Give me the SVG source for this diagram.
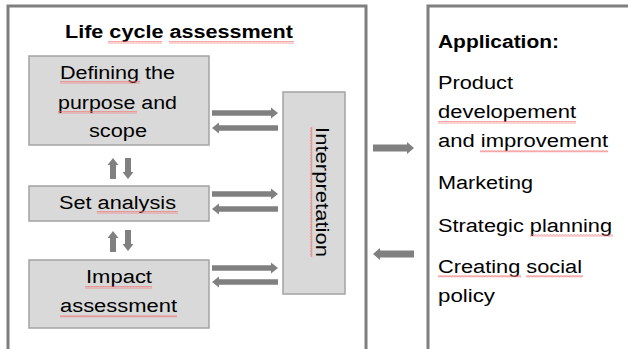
<svg xmlns="http://www.w3.org/2000/svg" width="628" height="349" viewBox="0 0 628 349">
<defs>
<style>
.frame{fill:none;stroke:#7f7f7f;stroke-width:3}
.box{fill:#d9d9d9;stroke:#a3a3a3;stroke-width:1.5}
.t{font-family:"Liberation Sans",Arial,sans-serif;font-size:18px;fill:#000}
.b{font-weight:bold}
.arr{fill:#808080}
.sq{fill:url(#squig)}
</style>
<pattern id="squig" patternUnits="userSpaceOnUse" width="3" height="2.5">
<path d="M0,2 L0.75,0.5 L1.5,2 L2.25,0.5 L3,2" fill="none" stroke="#f07070" stroke-width="0.7"/>
</pattern>
<path id="ah" d="M0,-2.7 H59 V-5.5 L66,0 L59,5.5 V2.7 H0 Z"/>
<path id="av" d="M-3,0 V-14 H-5.5 L0,-21 L5.5,-14 H3 V0 Z"/>
<path id="abig" d="M0,-3.5 H34 V-6 L41,0 L34,6 V3.5 H0 Z"/>
</defs>

<g id="lca-frame">
<rect class="frame" x="8" y="6" width="358" height="360"/>
<text class="t b" x="65" y="38" textLength="228" lengthAdjust="spacingAndGlyphs">Life cycle assessment</text>
<rect class="sq" x="108" y="41" width="54" height="2.5"/>
<rect class="sq" x="169" y="41" width="125" height="2.5"/>
</g>

<g id="node-purpose">
<rect class="box" x="29" y="56" width="180" height="89"/>
<text class="t" x="60" y="79" textLength="115" lengthAdjust="spacingAndGlyphs">Defining the</text>
<text class="t" x="58" y="109" textLength="119" lengthAdjust="spacingAndGlyphs">purpose and</text>
<text class="t" x="89" y="137" textLength="58" lengthAdjust="spacingAndGlyphs">scope</text>
<rect class="sq" x="60" y="81" width="80" height="2.5"/>
<rect class="sq" x="58" y="111" width="79" height="2.5"/>
</g>

<g id="node-set">
<rect class="box" x="29" y="186" width="180" height="35"/>
<text class="t" x="59" y="209" textLength="117" lengthAdjust="spacingAndGlyphs">Set analysis</text>
<rect class="sq" x="97" y="211" width="81" height="2.5"/>
</g>

<g id="node-impact">
<rect class="box" x="29" y="260" width="180" height="68"/>
<text class="t" x="86" y="283" textLength="66" lengthAdjust="spacingAndGlyphs">Impact</text>
<text class="t" x="60" y="312" textLength="117" lengthAdjust="spacingAndGlyphs">assessment</text>
<rect class="sq" x="85" y="286" width="67" height="2.5"/>
<rect class="sq" x="60" y="315" width="117" height="2.5"/>
</g>

<g id="node-interpretation">
<rect class="box" x="283" y="92" width="62" height="202"/>
<text class="t" transform="translate(316,127) rotate(90)" x="0" y="0" textLength="130" lengthAdjust="spacingAndGlyphs">Interpretation</text>
<rect class="sq" transform="translate(310,127) rotate(90) translate(0,-2.5)" x="0" y="0" width="130" height="2.5"/>
</g>

<g id="node-application">
<rect class="frame" x="428" y="6" width="220" height="360"/>
<text class="t b" x="438" y="48" textLength="121" lengthAdjust="spacingAndGlyphs">Application:</text>
<text class="t" x="438" y="89" textLength="75" lengthAdjust="spacingAndGlyphs">Product</text>
<text class="t" x="438" y="118" textLength="138" lengthAdjust="spacingAndGlyphs">developement</text>
<text class="t" x="438" y="147" textLength="170" lengthAdjust="spacingAndGlyphs">and improvement</text>
<text class="t" x="438" y="189" textLength="95" lengthAdjust="spacingAndGlyphs">Marketing</text>
<text class="t" x="438" y="232" textLength="174" lengthAdjust="spacingAndGlyphs">Strategic planning</text>
<text class="t" x="438" y="273" textLength="144" lengthAdjust="spacingAndGlyphs">Creating social</text>
<text class="t" x="438" y="302" textLength="57" lengthAdjust="spacingAndGlyphs">policy</text>
<rect class="sq" x="438" y="121" width="138" height="2.5"/>
<rect class="sq" x="480" y="150" width="128" height="2.5"/>
<rect class="sq" x="530" y="234" width="83" height="2.5"/>
<rect class="sq" x="438" y="275" width="83" height="2.5"/>
<rect class="sq" x="526" y="275" width="57" height="2.5"/>
</g>

<g id="connectors" class="arr">
<use href="#ah" transform="translate(212,113)"/>
<use href="#ah" transform="translate(278,128) scale(-1,1)"/>
<use href="#ah" transform="translate(212,194)"/>
<use href="#ah" transform="translate(278,209) scale(-1,1)"/>
<use href="#ah" transform="translate(212,268)"/>
<use href="#ah" transform="translate(278,282) scale(-1,1)"/>
<use href="#av" transform="translate(113,179)"/>
<use href="#av" transform="translate(128,158) scale(1,-1)"/>
<use href="#av" transform="translate(113,252)"/>
<use href="#av" transform="translate(128,230) scale(1,-1)"/>
<use href="#abig" transform="translate(373,148)"/>
<use href="#abig" transform="translate(414,254) scale(-1,1)"/>
</g>
</svg>
